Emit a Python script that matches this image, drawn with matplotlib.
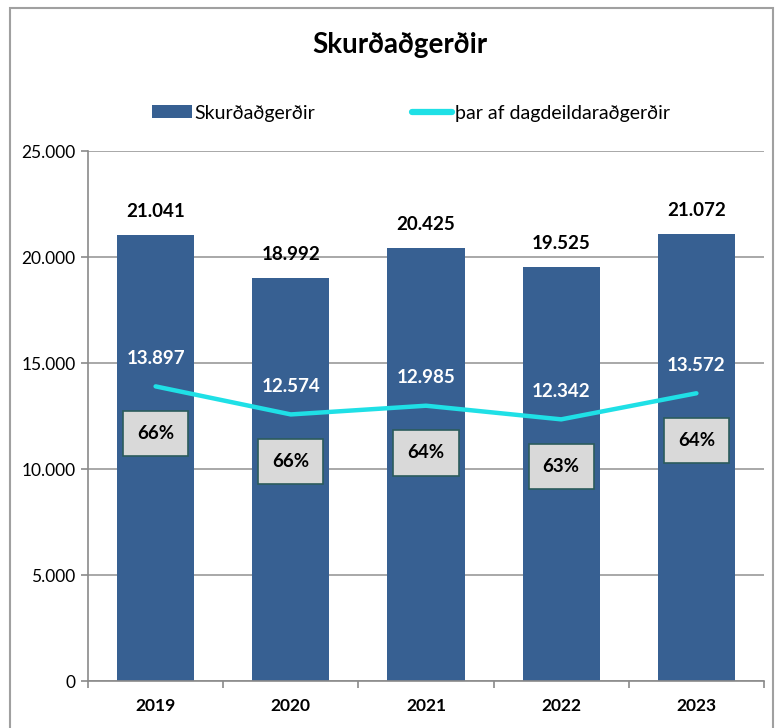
import matplotlib
matplotlib.use("Agg")
import matplotlib.pyplot as plt
from matplotlib.patches import Rectangle, Patch
from matplotlib.lines import Line2D
from matplotlib.ticker import FuncFormatter, FixedLocator
import numpy as np

years = ["2019", "2020", "2021", "2022", "2023"]
total = [21041, 18992, 20425, 19525, 21072]
dagdeild = [13897, 12574, 12985, 12342, 13572]
pct_labels = ["66%", "66%", "64%", "63%", "64%"]

plt.rcParams['font.family'] = ['Lato', 'DejaVu Sans']

bar_color = "#376092"
line_color = "#1fe0e6"

fig = plt.figure(figsize=(7.78, 7.28), dpi=100)
ax = fig.add_axes([88/778, 47/728, (764-88)/778, (681-151)/728])

x = np.arange(len(years))
ax.bar(x, total, width=0.57, color=bar_color, zorder=2)
ax.plot(x, dagdeild, color=line_color, lw=3.2, zorder=3, solid_capstyle='round')

def fmt(v):
    return f"{v:,.0f}".replace(",", ".")

for xi, v in zip(x, total):
    ax.annotate(fmt(v), (xi, v), xytext=(0, 17), textcoords="offset points",
                ha="center", va="center", fontsize=13.5, fontweight="bold", color="black")
for xi, v in zip(x, dagdeild):
    ax.annotate(fmt(v), (xi, v), xytext=(0, 20), textcoords="offset points",
                ha="center", va="center", fontsize=13.5, fontweight="bold", color="white", zorder=5)
for xi, v, p in zip(x, dagdeild, pct_labels):
    ax.annotate(p, (xi, v), xytext=(0, -34), textcoords="offset points",
                ha="center", va="center", fontsize=13.5, fontweight="bold", color="black", zorder=6,
                bbox=dict(boxstyle="square,pad=0.75", facecolor="#d9d9d9", edgecolor="#2b5c5c", lw=1.2))

ax.set_ylim(0, 25000)
ax.set_xlim(-0.5, len(years) - 0.5)
ax.set_yticks(np.arange(0, 25001, 5000))
ax.yaxis.set_major_formatter(FuncFormatter(lambda v, p: fmt(v)))
ax.yaxis.grid(True, color="#9a9a9a", lw=1.2, zorder=0)
ax.set_axisbelow(True)

ax.set_xticks(x)
ax.set_xticklabels(years, fontsize=12.5, fontweight="bold")
ax.tick_params(axis="x", which="major", length=0, pad=12)
ax.xaxis.set_minor_locator(FixedLocator(np.arange(-0.5, len(years), 1.0)))
ax.tick_params(axis="x", which="minor", length=5, color="#8a8a8a", width=1.2, direction="out")
ax.tick_params(axis="y", length=5, color="#8a8a8a", width=1.2, labelsize=12.5, pad=4)

for s in ["top", "right"]:
    ax.spines[s].set_visible(False)
for s in ["left", "bottom"]:
    ax.spines[s].set_color("#8a8a8a")
    ax.spines[s].set_linewidth(1.2)

fig.text(400/778, 1 - 45/728, "Skurðaðgerðir", ha="center", va="center",
         fontsize=20, fontweight="bold")

handles = [Patch(facecolor=bar_color, edgecolor="none"),
           Line2D([0], [0], color=line_color, lw=4.5, solid_capstyle='round')]
labels = ["Skurðaðgerðir", "þar af dagdeildaraðgerðir"]
leg = fig.legend(handles, labels, loc="center", bbox_to_anchor=(411/778, 1 - 113/728),
                 ncol=2, frameon=False, fontsize=14, columnspacing=5.0,
                 handlelength=2.05, handleheight=0.62, handletextpad=0.15)

fig.add_artist(Rectangle((10/778, -0.05), 763/778, (728-8)/728 + 0.05, fill=False,
                         edgecolor="#a0a0a0", lw=1.5, transform=fig.transFigure))

fig.savefig("out.png", dpi=100)
